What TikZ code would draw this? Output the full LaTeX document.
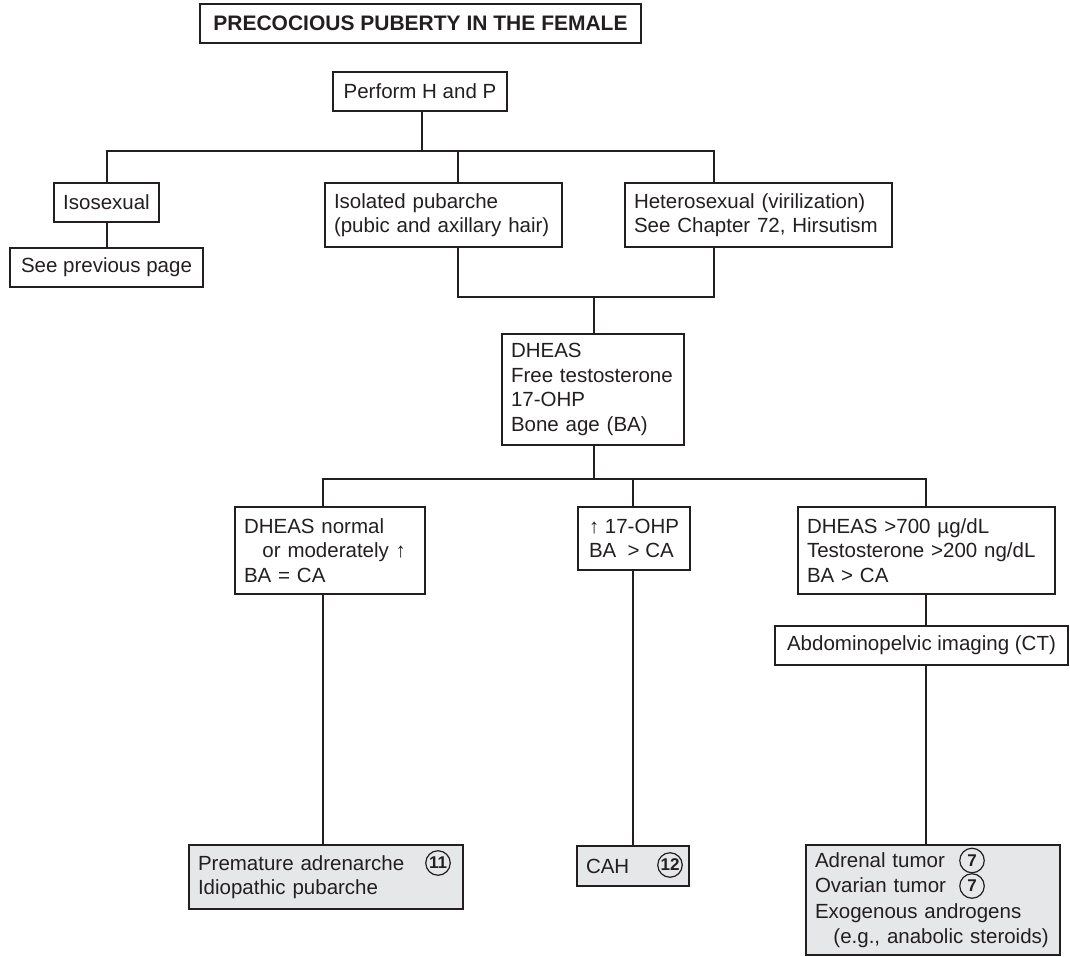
\documentclass[tikz,border=0pt]{standalone}
\usepackage{fontspec}
\setmainfont{Liberation Sans}
\definecolor{ink}{HTML}{231F20}
\definecolor{shade}{HTML}{E6E7E8}
\newcommand\tbox[7]{%
  \pgfmathsetmacro\bxc{(#3+#5)/2}%
  \pgfmathsetmacro\byc{(#4+#6)/2}%
  \pgfmathsetmacro\bw{#5-#3-18}%
  \pgfmathsetmacro\bh{#6-#4}%
  \node[#1, text width=\bw pt, minimum height=\bh pt] (#2) at (\bxc,\byc) {#7};}
\newcommand\cbox[7]{%
  \pgfmathsetmacro\bxc{(#3+#5)/2}%
  \pgfmathsetmacro\byc{(#4+#6)/2}%
  \pgfmathsetmacro\bw{#5-#3}%
  \pgfmathsetmacro\bh{#6-#4}%
  \node[#1, minimum width=\bw pt, minimum height=\bh pt] (#2) at (\bxc,\byc) {#7};}
\begin{document}
\begin{tikzpicture}[x=1pt,y=-1pt,
  every node/.style={font=\fontsize{20.5}{24.5}\selectfont, text=ink},
  box/.style={draw=ink, line width=1.3pt, inner xsep=9pt, inner ysep=0pt, align=left},
  gbox/.style={box, fill=shade},
  conn/.style={draw=ink, line width=1.7pt},
  numc/.style={circle, draw=ink, line width=1.2pt, inner sep=0pt, minimum size=24.5pt,
    font=\bfseries\fontsize{17}{17}\selectfont}]
\useasboundingbox (0,0) rectangle (1070,957);

% boxes
\cbox{box, inner xsep=0pt, font=\bfseries\fontsize{21}{24}\selectfont}{title}{200}{4}{641}{43}{PRECOCIOUS PUBERTY IN THE FEMALE}
\cbox{box, inner xsep=0pt}{perform}{333}{72}{507}{111}{Perform H and P}
\cbox{box, inner xsep=0pt}{iso}{54}{183}{159}{222}{Isosexual}
\cbox{box, inner xsep=0pt}{prev}{10}{248}{203}{287}{See previous page}
\tbox{box}{isol}{325}{183}{562}{247}{Isolated pubarche\\(pubic and axillary hair)}
\tbox{box}{hetero}{625}{183}{892}{247}{Heterosexual (virilization)\\See Chapter 72, Hirsutism}
\tbox{box}{dheas}{502}{334}{684}{445}{DHEAS\\Free testosterone\\17-OHP\\Bone age (BA)}
\tbox{box}{dn}{235}{507}{425}{594}{DHEAS normal\\\hspace*{0.9em}or moderately ↑\\BA = CA}
\cbox{box, inner xsep=0pt}{oh}{578}{507}{690}{570}{↑ 17-OHP\\BA\ \ > CA}
\tbox{box}{dh}{798}{507}{1055}{594}{DHEAS >700 µg/dL\\Testosterone >200 ng/dL\\BA > CA}
\cbox{box, inner xsep=0pt}{ab}{775}{626}{1068}{665}{Abdominopelvic imaging (CT)}
\tbox{gbox}{prem}{189}{845}{463}{909}{Premature adrenarche\\Idiopathic pubarche}
\tbox{gbox}{cah}{577}{846}{689}{886}{CAH}
\tbox{gbox, font=\fontsize{20.5}{25.5}\selectfont}{rt}{806}{845}{1060}{955}{Adrenal tumor\\Ovarian tumor\\Exogenous androgens\\\hspace*{0.9em}(e.g., anabolic steroids)}

% circled numbers
\node[numc] (n11) at (438,863) {11};
\node[numc] (n12) at (670,865) {12};
\node[numc] (n7a) at (972,860.5) {7};
\node[numc] (n7b) at (972,886) {7};

% junctions
\coordinate (t0) at (422,151);
\coordinate (t1) at (107,151);
\coordinate (t2) at (458,151);
\coordinate (t3) at (714,151);
\coordinate (m0) at (594,297);
\coordinate (m1) at (458,297);
\coordinate (m2) at (714,297);
\coordinate (b0) at (594,479);
\coordinate (b1) at (323,479);
\coordinate (b2) at (633,479);
\coordinate (b3) at (926,479);

% connectors
\draw[conn] (perform.south -| t0) -- (t0);
\draw[conn] (iso.north -| t1) -- (t1) -- (t3) -- (hetero.north -| t3);
\draw[conn] (t2) -- (isol.north -| t2);
\draw[conn] (iso.south -| t1) -- (prev.north -| t1);
\draw[conn] (isol.south -| m1) -- (m1) -- (m2) -- (hetero.south -| m2);
\draw[conn] (m0) -- (dheas.north -| m0);
\draw[conn] (dheas.south -| b0) -- (b0);
\draw[conn] (dn.north -| b1) -- (b1) -- (b3) -- (dh.north -| b3);
\draw[conn] (b2) -- (oh.north -| b2);
\draw[conn] (dn.south -| b1) -- (prem.north -| b1);
\draw[conn] (oh.south -| b2) -- (cah.north -| b2);
\draw[conn] (dh.south -| b3) -- (ab.north -| b3);
\draw[conn] (ab.south -| b3) -- (rt.north -| b3);
\end{tikzpicture}
\end{document}
